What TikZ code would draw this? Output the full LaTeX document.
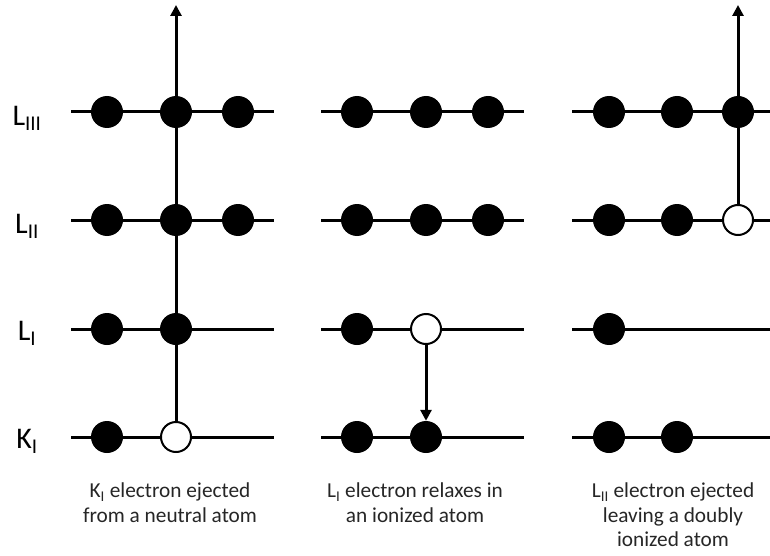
\documentclass[tikz,border=0pt]{standalone}
\usepackage{fontspec}
\setmainfont{Carlito}
\usetikzlibrary{arrows.meta}
\tikzset{
  full/.style={circle, fill=black, minimum size=32pt, inner sep=0pt},
  hole/.style={circle, draw=black, fill=white, line width=2pt, minimum size=30pt, inner sep=0pt},
  level/.style={line width=3pt},
  trans/.style={line width=3pt},
  up/.style={trans, -{Triangle[width=11pt,length=11pt]}},
  lab/.style={font=\fontsize{30}{36}\selectfont, anchor=center},
  capt/.style={font=\fontsize{21.3}{24.5}\selectfont, align=center, text=black!85, anchor=north, inner sep=0pt}
}
\begin{document}
\begin{tikzpicture}[x=1pt,y=-1pt]
\useasboundingbox (0,0) rectangle (770,556);
% level labels
\node[lab] (nLIII) at (27,118) {L\textsubscript{III}};
\node[lab] (nLII) at (27,226) {L\textsubscript{II}};
\node[lab] (nLI) at (27,333) {L\textsubscript{I}};
\node[lab] (nKI) at (27,441) {K\textsubscript{I}};
% level line end points
\foreach \y/\n in {112/a,220/b,329/c,437/d}{
  \coordinate (p1\n) at (71,\y);  \coordinate (q1\n) at (274,\y);
  \coordinate (p2\n) at (321,\y); \coordinate (q2\n) at (524,\y);
  \coordinate (p3\n) at (572,\y); \coordinate (q3\n) at (770,\y);
}
\foreach \c in {1,2,3}{
  \foreach \n in {a,b,c,d}{
    \draw[level] (p\c\n) -- (q\c\n);
  }
}
% column 1
\node[full] (a1) at (107,112) {};
\node[full] (a2) at (176,112) {};
\node[full] (a3) at (238,112) {};
\node[full] (b1) at (107,220) {};
\node[full] (b2) at (176,220) {};
\node[full] (b3) at (238,220) {};
\node[full] (c1) at (107,329) {};
\node[full] (c2) at (176,329) {};
\node[full] (d1) at (107,437) {};
\node[hole] (d2) at (176,437) {};
\coordinate (t1) at (176,5);
\draw[up] (d2.north) -- (t1);
% column 2
\node[full] (e1) at (357,112) {};
\node[full] (e2) at (426,112) {};
\node[full] (e3) at (488,112) {};
\node[full] (f1) at (357,220) {};
\node[full] (f2) at (426,220) {};
\node[full] (f3) at (488,220) {};
\node[full] (g1) at (357,329) {};
\node[hole] (g2) at (426,329) {};
\node[full] (h1) at (357,437) {};
\node[full] (h2) at (426,437) {};
\draw[up] (g2.south) -- (h2.north);
% column 3
\node[full] (i1) at (609,112) {};
\node[full] (i2) at (677,112) {};
\node[full] (i3) at (738,112) {};
\node[full] (j1) at (609,220) {};
\node[full] (j2) at (677,220) {};
\node[hole] (j3) at (738,220) {};
\node[full] (k1) at (609,329) {};
\node[full] (m1) at (609,437) {};
\node[full] (m2) at (677,437) {};
\coordinate (t3) at (738,5);
\draw[up] (j3.north) -- (t3);
% captions
\node[capt] (cap1) at (170,483) {K\textsubscript{I} electron ejected\\from a neutral atom};
\node[capt] (cap2) at (415,483) {L\textsubscript{I} electron relaxes in\\an ionized atom};
\node[capt] (cap3) at (673,483) {L\textsubscript{II} electron ejected\\leaving a doubly\\ionized atom};
\end{tikzpicture}
\end{document}
